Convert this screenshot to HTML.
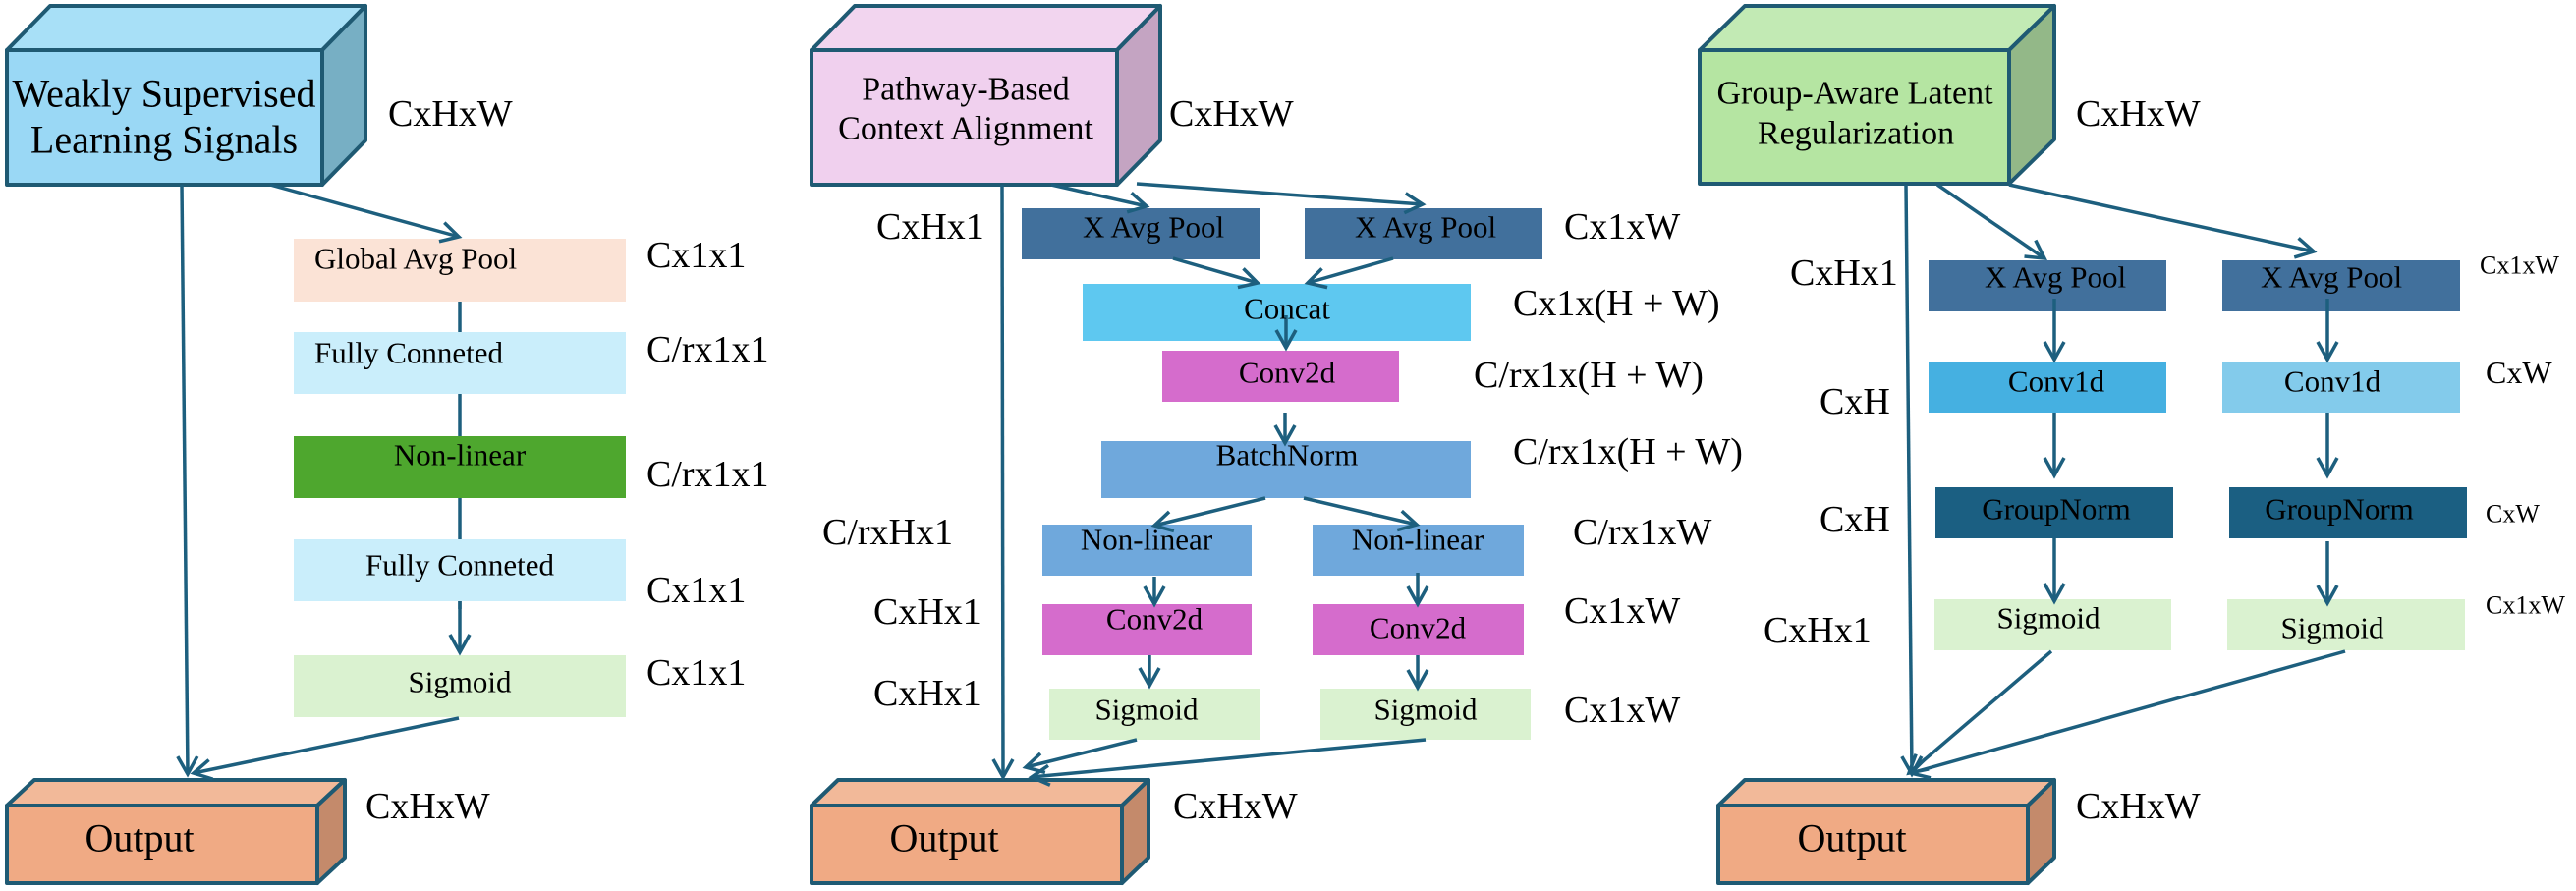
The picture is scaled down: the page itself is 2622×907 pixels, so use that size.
<!DOCTYPE html>
<html><head><meta charset="utf-8"><style>
html,body{margin:0;padding:0;background:#fff;}
svg{display:block;}
svg text{font-family:"Liberation Serif","DejaVu Serif",serif;fill:#000;}
</style></head><body>
<svg width="2622" height="907" viewBox="0 0 2622 907" xmlns="http://www.w3.org/2000/svg" font-family="Liberation Serif, DejaVu Serif, serif">
<defs>
<marker id="b" markerWidth="24" markerHeight="24" refX="20" refY="12" orient="auto" markerUnits="userSpaceOnUse" viewBox="0 0 24 24">
<polyline points="2,2 20,12 2,22" fill="none" stroke="#1d5f7e" stroke-width="3.5"/>
</marker>
</defs>
<g stroke="#1f5a73" stroke-width="4" stroke-linejoin="round">
<polygon points="7,51 51,6 372,6 328,51" fill="#a8e0f7"/>
<polygon points="328,51 372,6 372,143 328,188" fill="#77afc4"/>
<rect x="7" y="51" width="321" height="137" fill="#9ad8f5"/>
<polygon points="826,51 870,6 1181,6 1137,51" fill="#f2d5ef"/>
<polygon points="1137,51 1181,6 1181,143 1137,188" fill="#c4a4c2"/>
<rect x="826" y="51" width="311" height="137" fill="#f0d0ee"/>
<polygon points="1730,51 1776,6 2091,6 2045,51" fill="#c2eab4"/>
<polygon points="2045,51 2091,6 2091,142 2045,187" fill="#93b888"/>
<rect x="1730" y="51" width="315" height="136" fill="#b5e5a2"/>
<polygon points="7,820 35,794 351,794 323,820" fill="#f2b999"/>
<polygon points="323,820 351,794 351,873 323,899" fill="#c48a6b"/>
<rect x="7" y="820" width="316" height="79" fill="#f0aa84"/>
<polygon points="826,820 853,794 1169,794 1142,820" fill="#f2b999"/>
<polygon points="1142,820 1169,794 1169,873 1142,899" fill="#c48a6b"/>
<rect x="826" y="820" width="316" height="79" fill="#f0aa84"/>
<polygon points="1749,820 1776,794 2091,794 2064,820" fill="#f2b999"/>
<polygon points="2064,820 2091,794 2091,873 2064,899" fill="#c48a6b"/>
<rect x="1749" y="820" width="315" height="79" fill="#f0aa84"/>
</g>
<line x1="468" y1="300" x2="468" y2="620" stroke="#1d5f7e" stroke-width="3.5"/>
<rect x="299" y="243" width="338" height="64" fill="#fbe3d6"/>
<rect x="299" y="338" width="338" height="63" fill="#caeefb"/>
<rect x="299" y="444" width="338" height="63" fill="#4ea72e"/>
<rect x="299" y="549" width="338" height="63" fill="#caeefb"/>
<rect x="299" y="667" width="338" height="63" fill="#daf2d0"/>
<rect x="1040" y="212" width="242" height="52" fill="#41709c"/>
<rect x="1328" y="212" width="242" height="52" fill="#41709c"/>
<rect x="1102" y="289" width="395" height="58" fill="#5ec8f0"/>
<rect x="1183" y="357" width="241" height="52" fill="#d56ccc"/>
<rect x="1121" y="449" width="376" height="58" fill="#6fa8dc"/>
<rect x="1061" y="534" width="213" height="52" fill="#6fa8dc"/>
<rect x="1336" y="534" width="215" height="52" fill="#6fa8dc"/>
<rect x="1061" y="615" width="213" height="52" fill="#d56ccc"/>
<rect x="1336" y="615" width="215" height="52" fill="#d56ccc"/>
<rect x="1068" y="701" width="214" height="52" fill="#daf2d0"/>
<rect x="1344" y="701" width="214" height="52" fill="#daf2d0"/>
<rect x="1963" y="265" width="242" height="52" fill="#41709c"/>
<rect x="2262" y="265" width="242" height="52" fill="#41709c"/>
<rect x="1963" y="368" width="242" height="52" fill="#45b0e1"/>
<rect x="2262" y="368" width="242" height="52" fill="#83cbeb"/>
<rect x="1970" y="496" width="242" height="52" fill="#1b5f82"/>
<rect x="2269" y="496" width="242" height="52" fill="#1b5f82"/>
<rect x="1969" y="610" width="241" height="52" fill="#daf2d0"/>
<rect x="2267" y="610" width="242" height="52" fill="#daf2d0"/>
<g stroke="#1d5f7e" stroke-width="3.5" fill="none" marker-end="url(#b)">
<line x1="275" y1="188" x2="467" y2="241"/>
<line x1="185" y1="188" x2="191" y2="788"/>
<line x1="467" y1="731" x2="197" y2="787"/>
<line x1="468" y1="612" x2="468" y2="664"/>
<line x1="1070" y1="188" x2="1167" y2="210"/>
<line x1="1157" y1="187" x2="1448" y2="208"/>
<line x1="1194" y1="263" x2="1280" y2="288"/>
<line x1="1418" y1="263" x2="1331" y2="288"/>
<line x1="1309" y1="321" x2="1309" y2="354"/>
<line x1="1308" y1="420" x2="1308" y2="451"/>
<line x1="1288" y1="507" x2="1175" y2="535"/>
<line x1="1327" y1="507" x2="1442" y2="534"/>
<line x1="1175" y1="587" x2="1175" y2="615"/>
<line x1="1443" y1="583" x2="1443" y2="615"/>
<line x1="1170" y1="667" x2="1170" y2="698"/>
<line x1="1443" y1="667" x2="1443" y2="700"/>
<line x1="1020" y1="188" x2="1021" y2="791"/>
<line x1="1157" y1="753" x2="1044" y2="781"/>
<line x1="1451" y1="753" x2="1050" y2="791"/>
<line x1="1940" y1="188" x2="1946" y2="788"/>
<line x1="1972" y1="188" x2="2081" y2="263"/>
<line x1="2045" y1="188" x2="2355" y2="256"/>
<line x1="2091" y1="304" x2="2091" y2="366"/>
<line x1="2369" y1="304" x2="2369" y2="366"/>
<line x1="2091" y1="420" x2="2091" y2="484"/>
<line x1="2369" y1="420" x2="2369" y2="484"/>
<line x1="2091" y1="548" x2="2091" y2="612"/>
<line x1="2369" y1="551" x2="2369" y2="614"/>
<line x1="2088" y1="663" x2="1943" y2="787"/>
<line x1="2387" y1="663" x2="1945" y2="787"/>
</g>
<g font-family="Liberation Serif, DejaVu Serif, serif">
<g font-size="40" text-anchor="middle" dominant-baseline="central">
<text x="167" y="95">Weakly Supervised</text>
<text x="167" y="142">Learning Signals</text>
<text x="142" y="853">Output</text>
<text x="961" y="853">Output</text>
<text x="1885" y="853">Output</text>
</g>
<g font-size="34" text-anchor="middle" dominant-baseline="central">
<text x="983" y="91">Pathway-Based</text>
<text x="983" y="131">Context Alignment</text>
<text x="1888" y="95">Group-Aware Latent</text>
<text x="1889" y="136">Regularization</text>
</g>
<g font-size="31" dominant-baseline="central">
<text x="320" y="263">Global Avg Pool</text>
<text x="320" y="359">Fully Conneted</text>
</g>
<g font-size="31" text-anchor="middle" dominant-baseline="central">
<text x="468" y="463">Non-linear</text>
<text x="468" y="575">Fully Conneted</text>
<text x="468" y="694">Sigmoid</text>
<text x="1174" y="231">X Avg Pool</text>
<text x="1451" y="231">X Avg Pool</text>
<text x="1310" y="314">Concat</text>
<text x="1310" y="379">Conv2d</text>
<text x="1310" y="463">BatchNorm</text>
<text x="1167" y="549">Non-linear</text>
<text x="1443" y="549">Non-linear</text>
<text x="1175" y="630">Conv2d</text>
<text x="1443" y="639">Conv2d</text>
<text x="1167" y="722">Sigmoid</text>
<text x="1451" y="722">Sigmoid</text>
<text x="2092" y="282">X Avg Pool</text>
<text x="2373" y="282">X Avg Pool</text>
<text x="2093" y="388">Conv1d</text>
<text x="2374" y="388">Conv1d</text>
<text x="2093" y="518">GroupNorm</text>
<text x="2381" y="518">GroupNorm</text>
<text x="2085" y="629">Sigmoid</text>
<text x="2374" y="639">Sigmoid</text>
</g>
<g font-size="38" dominant-baseline="central">
<text x="395" y="116">CxHxW</text>
<text x="658" y="260">Cx1x1</text>
<text x="658" y="356">C/rx1x1</text>
<text x="658" y="483">C/rx1x1</text>
<text x="658" y="601">Cx1x1</text>
<text x="658" y="685">Cx1x1</text>
<text x="372" y="821">CxHxW</text>
<text x="1190" y="116">CxHxW</text>
<text x="892" y="231">CxHx1</text>
<text x="1592" y="231">Cx1xW</text>
<text x="1540" y="309">Cx1x(H + W)</text>
<text x="1500" y="382">C/rx1x(H + W)</text>
<text x="1540" y="460">C/rx1x(H + W)</text>
<text x="837" y="542">C/rxHx1</text>
<text x="889" y="623">CxHx1</text>
<text x="889" y="706">CxHx1</text>
<text x="1601" y="542">C/rx1xW</text>
<text x="1592" y="622">Cx1xW</text>
<text x="1592" y="723">Cx1xW</text>
<text x="1194" y="821">CxHxW</text>
<text x="2113" y="116">CxHxW</text>
<text x="1822" y="278">CxHx1</text>
<text x="1852" y="409">CxH</text>
<text x="1852" y="529">CxH</text>
<text x="1795" y="642">CxHx1</text>
<text x="2113" y="821">CxHxW</text>
</g>
<g font-size="26" dominant-baseline="central">
<text x="2524" y="270">Cx1xW</text>
<text x="2530" y="523">CxW</text>
<text x="2530" y="616">Cx1xW</text>
</g>
<text x="2530" y="379" font-size="32" dominant-baseline="central">CxW</text>
</g>
</svg>
</body></html>
